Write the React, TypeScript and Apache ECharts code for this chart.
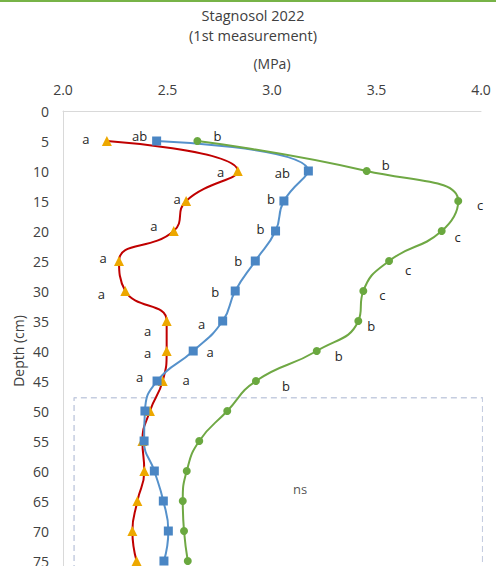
import React, { useEffect, useRef } from "react";
import * as echarts from "echarts";

const depths = [5, 10, 15, 20, 25, 30, 35, 40, 45, 50, 55, 60, 65, 70, 75];
const redValues = [2.21, 2.836, 2.589, 2.53, 2.268, 2.298, 2.496, 2.496, 2.477, 2.416, 2.38, 2.389, 2.356, 2.332, 2.352];
const blueValues = [2.448, 3.174, 3.057, 3.017, 2.92, 2.824, 2.764, 2.623, 2.45, 2.392, 2.388, 2.437, 2.48, 2.504, 2.483];
const greenValues = [2.643, 3.453, 3.891, 3.812, 3.56, 3.437, 3.413, 3.214, 2.923, 2.786, 2.652, 2.592, 2.573, 2.579, 2.597];
const redLetters = ["a", "a", "a", "a", "a", "a", "a", "a", "a"];
const blueLetters = ["ab", "ab", "b", "b", "b", "b", "a", "a", "a"];
const greenLetters = ["b", "b", "c", "c", "c", "c", "b", "b", "b"];
const nsBox = { xFrom: 2.053, xTo: 4.008, depthFrom: 47.8, depthTo: 80 };
const nsLabel = { text: "ns", x: 3.134, depth: 63 };
const xTicks = [2.0, 2.5, 3.0, 3.5, 4.0];

// label offsets (pixels, relative to marker)
const redOffsets = [[-21, -2], [-17, 1], [-9, -2], [-20, -5], [-16, -3], [-24, 3], [-19, 10], [-19, 2], [-23, -4]];
const blueOffsets = [[-17, -5], [-26, 2], [-13, -2], [-15, -2], [-17, 0], [-20, 1], [-21, 3], [17, 1], [29, -1]];
const greenOffsets = [[20, -5], [19, -6], [22, 4], [16, 6], [19, 9], [19, 4], [13, 5], [22, 5], [30, 5]];

const FONT = "'Open Sans', sans-serif";

function buildData(values: number[], letters: string[], offsets: number[][]) {
  return values.map((v, i) => {
    const item: any = { value: [v, depths[i]] };
    if (i < letters.length) {
      item.label = {
        show: true,
        position: "inside",
        formatter: letters[i],
        offset: offsets[i],
        color: "#262626",
        fontSize: 13,
        fontFamily: FONT,
      };
    }
    return item;
  });
}

export default function App() {
  const ref = useRef<HTMLDivElement>(null);
  useEffect(() => {
    if (!ref.current) return;
    const chart = echarts.init(ref.current, undefined, { renderer: "svg" });
    const yMax = 75.83;
    chart.setOption({
      animation: false,
      backgroundColor: "#ffffff",
      textStyle: { fontFamily: FONT },
      grid: { left: 63, right: 15, top: 111, bottom: 0, containLabel: false, outerBoundsMode: "none" },
      graphic: [
        { type: "rect", left: 0, top: 0, shape: { width: 496, height: 2 }, style: { fill: "#77b347" } },
        {
          type: "text",
          x: 253,
          y: 15,
          style: { text: "Stagnosol 2022", fill: "#404040", font: `14.5px ${FONT}`, align: "center", verticalAlign: "middle" },
        },
        {
          type: "text",
          x: 253,
          y: 35,
          style: { text: "(1st measurement)", fill: "#404040", font: `14.5px ${FONT}`, align: "center", verticalAlign: "middle" },
        },
        {
          type: "text",
          x: 18,
          y: 351,
          rotation: Math.PI / 2,
          style: { text: "Depth (cm)", fill: "#404040", font: `14px ${FONT}`, align: "center", verticalAlign: "middle" },
        },
      ],
      xAxis: {
        type: "value",
        position: "top",
        min: 2.0,
        max: 4.0,
        interval: 0.5,
        name: "(MPa)",
        nameLocation: "middle",
        nameGap: 41,
        nameTextStyle: { color: "#404040", fontSize: 14, fontFamily: FONT },
        axisLine: { show: true, lineStyle: { color: "#d9d9d9", width: 1 } },
        axisTick: { show: false },
        splitLine: { show: false },
        axisLabel: {
          color: "#404040",
          fontSize: 14,
          fontFamily: FONT,
          margin: 15,
          formatter: (v: number) => (xTicks.some((t) => Math.abs(t - v) < 1e-6) ? v.toFixed(1) : ""),
        },
      },
      yAxis: {
        type: "value",
        inverse: true,
        min: 0,
        max: yMax,
        interval: 5,
        axisLine: { show: true, lineStyle: { color: "#d9d9d9", width: 1 } },
        axisTick: { show: false },
        splitLine: { show: false },
        axisLabel: {
          color: "#404040",
          fontSize: 14,
          fontFamily: FONT,
          margin: 14,
          showMaxLabel: false,
          formatter: (v: number) => (Math.abs(v % 5) < 1e-6 ? String(v) : ""),
        },
      },
      series: [
        {
          type: "line",
          silent: true,
          clip: false,
          symbol: "none",
          smooth: false,
          lineStyle: { color: "#c5cde0", width: 1.5, type: [6, 4] },
          data: [
            [nsBox.xFrom, nsBox.depthTo],
            [nsBox.xFrom, nsBox.depthFrom],
            [nsBox.xTo, nsBox.depthFrom],
            [nsBox.xTo, nsBox.depthTo],
          ],
        },
        {
          type: "scatter",
          symbolSize: 0,
          silent: true,
          data: [
            {
              value: [nsLabel.x, nsLabel.depth],
              label: { show: true, position: "inside", formatter: nsLabel.text, color: "#262626", fontSize: 13, fontFamily: FONT },
            },
          ],
        },
        {
          type: "line",
          smooth: 0.5,
          symbol: "triangle",
          symbolSize: 10,
          lineStyle: { color: "#c00000", width: 2 },
          itemStyle: { color: "#eda800" },
          data: buildData(redValues, redLetters, redOffsets),
        },
        {
          type: "line",
          smooth: 0.5,
          symbol: "rect",
          symbolSize: 9,
          lineStyle: { color: "#5591cb", width: 2 },
          itemStyle: { color: "#4a86c4" },
          data: buildData(blueValues, blueLetters, blueOffsets),
        },
        {
          type: "line",
          smooth: 0.5,
          symbol: "circle",
          symbolSize: 8,
          lineStyle: { color: "#6fa844", width: 2 },
          itemStyle: { color: "#6aa83f" },
          data: buildData(greenValues, greenLetters, greenOffsets),
        },
      ],
    });
    return () => chart.dispose();
  }, []);
  return (
    <div
      ref={ref}
      style={{ position: "fixed", left: 0, top: 0, width: 496, height: 566, background: "#fff" }}
    />
  );
}
